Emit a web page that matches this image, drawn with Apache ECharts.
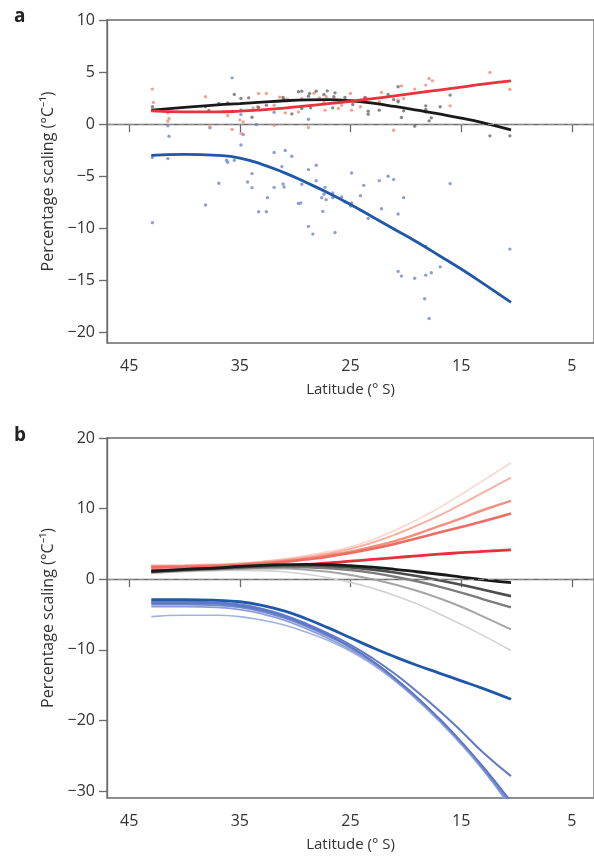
<!DOCTYPE html>
<html>
<head>
<meta charset="utf-8">
<script src="https://cdn.jsdelivr.net/npm/echarts@6/dist/echarts.min.js"></script>
<style>
  html, body { margin: 0; padding: 0; background: #fff; }
  #main { width: 594px; height: 856px; }
</style>
</head>
<body>
<div id="main"></div>
<script>
// latitudes the fitted curves are sampled at (deg S)
var lats = [43, 40, 37, 35, 33, 31, 29, 27, 25, 23, 21, 19, 17, 15, 13, 10.5];
var latTicks = [45, 35, 25, 15, 5];
var yTicksA = [-20, -15, -10, -5, 0, 5, 10];
var yTicksB = [-30, -20, -10, 0, 10, 20];

// panel a: fitted curves
var redA = [1.28, 1.18, 1.18, 1.25, 1.38, 1.55, 1.75, 1.97, 2.2, 2.45, 2.72, 3.0, 3.28, 3.56, 3.84, 4.15];
var blackA = [1.35, 1.62, 1.85, 1.98, 2.12, 2.25, 2.33, 2.35, 2.25, 2.02, 1.7, 1.35, 0.98, 0.58, 0.12, -0.55];
var blueA = [-3.0, -2.9, -3.0, -3.25, -3.85, -4.65, -5.6, -6.6, -7.7, -8.9, -10.1, -11.3, -12.6, -13.9, -15.3, -17.1];

// panel a: station points [lat, value]
var redPts = [[42.9,3.37],[42.8,2.09],[41.5,1.09],[41.4,0.55],[41.5,0.29],[38.1,2.63],[37.7,-0.26],[36.1,0.84],[35.7,-0.51],[35.0,0.41],[34.7,0.22],[34.9,-0.9],[33.3,2.95],[32.6,2.95],[33.8,1.57],[33.4,1.67],[31.9,-0.1],[31.9,1.83],[30.9,1.09],[29.7,1.18],[29.4,2.47],[28.3,2.98],[27.8,2.53],[27.4,2.09],[28.8,-0.32],[30.7,2.4],[31.4,2.6],
  [27.2,2.63],[27.3,1.35],[26.1,1.51],[25.8,1.83],[25.0,2.95],[24.9,1.35],[24.1,1.67],[23.6,2.53],[22.4,2.15],[22.2,3.05],[20.7,2.3],[20.4,3.68],[20.2,2.47],[19.2,3.37],[18.2,3.75],[17.9,4.39],[17.6,4.16],[16.0,1.76],[21.1,-0.58],[12.4,4.97],[10.6,3.34]];
var grayPts = [[42.9,1.67],[37.8,1.31],[38.1,1.67],[36.9,1.99],[36.1,2.05],[35.5,2.86],[34.9,2.47],[34.2,2.53],[34.9,1.35],[33.9,0.67],[33.3,1.61],[32.6,1.83],[31.1,2.57],[31.0,2.4],[30.3,0.99],[29.4,1.51],[29.7,3.11],[29.4,3.17],[28.8,2.69],[28.7,2.95],[28.1,3.17],[27.4,2.86],[28.6,1.57],
  [27.1,3.2],[26.4,3.01],[26.5,2.63],[26.6,1.57],[25.5,2.57],[26.0,2.21],[24.8,1.89],[23.7,2.57],[23.4,1.25],[23.4,0.96],[22.4,1.35],[21.6,2.86],[21.1,2.38],[20.7,3.59],[20.7,2.15],[20.2,1.28],[20.4,0.64],[19.2,-0.19],[18.2,1.76],[18.2,1.41],[18.2,1.18],[17.7,0.61],[17.9,0.32],[16.9,1.67],[16.0,2.79],[12.4,-1.12],[10.6,-1.12]];
var bluePts = [[42.9,-3.2],[42.9,-9.45],[41.5,-3.3],[38.1,-7.76],[36.9,-5.67],[36.2,-3.46],[36.1,-3.65],[35.5,-3.46],[34.9,-2.0],[33.9,-4.74],[34.3,-5.55],[33.9,-6.09],[33.3,-8.4],[32.6,-8.4],[32.5,-7.05],[31.9,-2.72],[31.9,-6.06],[31.2,-4.07],[30.9,-2.53],[30.3,-3.08],[31.1,-5.74],[31.0,-6.03],[29.7,-7.6],[29.5,-7.57],[29.4,-5.77],[28.8,-4.36],[28.1,-3.94],[28.1,-5.42],[27.3,-6.06],[27.4,-6.73],[27.2,-7.24],[27.6,-7.05],[27.5,-8.37],[28.8,-9.81],[28.4,-10.55],
  [26.6,-6.6],[26.6,-7.05],[26.4,-10.4],[25.8,-6.99],[25.5,-7.47],[25.0,-7.85],[24.9,-4.68],[24.9,-7.57],[24.1,-6.86],[23.8,-5.87],[23.4,-9.04],[22.4,-5.42],[22.2,-8.11],[21.6,-5.0],[21.1,-5.32],[20.7,-8.62],[20.2,-7.05],[20.7,-14.13],[20.4,-14.58],[19.2,-14.78],[18.2,-14.49],[17.7,-14.26],[16.9,-13.69],[18.2,-11.73],[18.3,-16.76],[17.9,-18.65],[16.0,-5.7],[10.6,-11.99],
  [35.7,4.45],[41.5,-0.16],[41.4,-1.15],[37.7,-0.35],[34.9,0.93],[34.7,-0.99],[33.5,-0.03],[31.9,1.15],[28.8,0.48]];

// panel b: curve families (lightest first, main last)
var redB1 = [2.0, 2.05, 2.15, 2.3, 2.55, 2.9, 3.35, 3.9, 4.6, 5.6, 6.9, 8.4, 10.1, 12.0, 14.0, 16.5];
var redB2 = [1.9, 1.95, 2.05, 2.2, 2.45, 2.75, 3.15, 3.65, 4.3, 5.2, 6.3, 7.6, 9.0, 10.6, 12.3, 14.4];
var redB3 = [1.8, 1.85, 1.95, 2.1, 2.3, 2.6, 2.95, 3.4, 3.9, 4.6, 5.4, 6.4, 7.5, 8.6, 9.8, 11.1];
var redB4 = [1.7, 1.75, 1.85, 2.0, 2.2, 2.45, 2.8, 3.2, 3.7, 4.3, 5.0, 5.8, 6.6, 7.4, 8.2, 9.3];
var redB5 = [1.3, 1.35, 1.45, 1.55, 1.7, 1.85, 2.05, 2.3, 2.55, 2.8, 3.05, 3.3, 3.55, 3.75, 3.95, 4.15];
var grayB1 = [0.8, 1.05, 1.2, 1.25, 1.2, 1.05, 0.7, 0.2, -0.45, -1.3, -2.3, -3.5, -4.9, -6.4, -8.0, -10.1];
var grayB2 = [0.9, 1.15, 1.35, 1.45, 1.5, 1.5, 1.35, 1.05, 0.6, 0.0, -0.75, -1.65, -2.7, -3.9, -5.3, -7.1];
var grayB3 = [1.0, 1.25, 1.45, 1.6, 1.7, 1.75, 1.7, 1.55, 1.3, 0.9, 0.35, -0.3, -1.05, -1.9, -2.85, -4.0];
var grayB4 = [1.1, 1.35, 1.55, 1.7, 1.85, 1.95, 1.95, 1.85, 1.65, 1.35, 0.95, 0.45, -0.15, -0.8, -1.5, -2.4];
var grayB5 = [1.1, 1.4, 1.6, 1.8, 1.95, 2.05, 2.1, 2.05, 1.9, 1.7, 1.4, 1.05, 0.7, 0.3, -0.1, -0.5];
var blueB1 = [-5.3, -5.1, -5.1, -5.3, -5.8, -6.5, -7.5, -8.7, -10.2, -12.1, -14.4, -17.1, -20.1, -23.4, -27.1, -32.0];
var blueB2 = [-3.9, -3.9, -4.0, -4.3, -4.9, -5.8, -7.0, -8.4, -10.0, -11.9, -14.3, -17.0, -20.0, -23.3, -27.0, -32.4];
var blueB3 = [-3.6, -3.6, -3.7, -4.0, -4.6, -5.5, -6.7, -8.1, -9.7, -11.7, -14.1, -16.8, -19.8, -23.1, -26.8, -31.9];
var blueB4 = [-3.4, -3.4, -3.5, -3.8, -4.4, -5.3, -6.5, -7.9, -9.6, -11.6, -14.0, -16.7, -19.7, -23.0, -26.6, -31.5];
var blueB5 = [-3.2, -3.2, -3.3, -3.6, -4.2, -5.1, -6.3, -7.7, -9.3, -11.2, -13.4, -15.9, -18.6, -21.5, -24.6, -27.9];
var blueB6 = [-2.9, -2.9, -3.0, -3.2, -3.7, -4.5, -5.6, -6.9, -8.3, -9.7, -11.0, -12.2, -13.3, -14.4, -15.5, -17.0];

var font = 'Open Sans';
var axisColor = '#6a6a6a';
var chart = echarts.init(document.getElementById('main'));

function pairs(vals) {
    return lats.map(function (x, i) { return [x, vals[i]]; });
}

function xAxisFor(idx) {
    return {
        type: 'value', gridIndex: idx, min: 3, max: 47, inverse: true,
        axisLine: { show: true, lineStyle: { color: axisColor, width: 1.3 } },
        axisTick: { show: true, length: 8, customValues: latTicks, lineStyle: { color: axisColor, width: 1.3 } },
        axisLabel: { customValues: latTicks, margin: 15, fontSize: 16, color: '#333', fontFamily: font },
        splitLine: { show: false },
        name: 'Latitude (° S)', nameLocation: 'middle', nameGap: 39,
        nameTextStyle: { fontSize: 15, color: '#333', fontFamily: font }
    };
}

function yAxisFor(idx, min, max, ticks) {
    return {
        type: 'value', gridIndex: idx, min: min, max: max,
        axisLine: { show: true, lineStyle: { color: axisColor, width: 1.3 } },
        axisTick: { show: true, length: 8, customValues: ticks, lineStyle: { color: axisColor, width: 1.3 } },
        axisLabel: { customValues: ticks, margin: 12, fontSize: 16, color: '#333', fontFamily: font,
            formatter: function (v) { return v < 0 ? '\u2212' + (-v) : '' + v; } },
        splitLine: { show: false },
        name: 'Percentage scaling (°C\u207B\u00B9)', nameLocation: 'middle', nameGap: 50, nameRotate: 90,
        nameTextStyle: { fontSize: 16, color: '#333', fontFamily: font }
    };
}

function curve(idx, vals, color, width) {
    return {
        type: 'line', xAxisIndex: idx, yAxisIndex: idx, data: pairs(vals), smooth: true,
        showSymbol: false, clip: true, lineStyle: { color: color, width: width }, z: 3
    };
}

function dots(pts, color) {
    return {
        type: 'scatter', xAxisIndex: 0, yAxisIndex: 0, data: pts, symbolSize: 3.4,
        itemStyle: { color: color }, z: 2
    };
}

function zeroLine(idx) {
    return {
        type: 'line', xAxisIndex: idx, yAxisIndex: idx, data: [], z: 1,
        markLine: {
            silent: true, symbol: 'none', label: { show: false },
            lineStyle: { type: [6, 4], color: '#8a8a8a', width: 1.2 },
            data: [{ yAxis: 0 }]
        }
    };
}

var option = {
    animation: false,
    backgroundColor: '#fff',
    title: [
        { text: 'a', left: 9, top: 2, textStyle: { fontSize: 19, fontWeight: 'bold', color: '#222', fontFamily: font } },
        { text: 'b', left: 9, top: 421, textStyle: { fontSize: 19, fontWeight: 'bold', color: '#222', fontFamily: font } }
    ],
    grid: [
        { left: 107, top: 20, width: 488, height: 323, show: true, borderColor: axisColor, borderWidth: 1.3 },
        { left: 107, top: 438, width: 488, height: 360, show: true, borderColor: axisColor, borderWidth: 1.3 }
    ],
    xAxis: [xAxisFor(0), xAxisFor(1)],
    yAxis: [yAxisFor(0, -21, 10, yTicksA), yAxisFor(1, -31, 20, yTicksB)],
    series: [
        zeroLine(0),
        dots(bluePts, '#6f87d2'),
        dots(redPts, '#f58a78'),
        dots(grayPts, '#6a6a6a'),
        curve(0, blueA, '#1f58a8', 2.8),
        curve(0, blackA, '#1a1a1a', 2.8),
        curve(0, redA, '#e8333d', 2.8),

        zeroLine(1),
        curve(1, redB1, '#fbd6cc', 1.6),
        curve(1, redB2, '#f7b2a2', 2.0),
        curve(1, redB3, '#f48e7f', 2.4),
        curve(1, redB4, '#ef6c62', 2.6),
        curve(1, redB5, '#e8303c', 2.8),
        curve(1, grayB1, '#d2d2d2', 1.6),
        curve(1, grayB2, '#a5a5a5', 2.0),
        curve(1, grayB3, '#7c7c7c', 2.4),
        curve(1, grayB4, '#4e4e4e', 2.6),
        curve(1, grayB5, '#1a1a1a', 2.8),
        curve(1, blueB1, '#a3b1e0', 1.6),
        curve(1, blueB2, '#8c9dd8', 1.8),
        curve(1, blueB3, '#7388cd', 1.8),
        curve(1, blueB4, '#5c76c4', 1.8),
        curve(1, blueB5, '#5f7ac6', 2.0),
        curve(1, blueB6, '#1f58a8', 2.8)
    ]
};
chart.setOption(option);
</script>
</body>
</html>
